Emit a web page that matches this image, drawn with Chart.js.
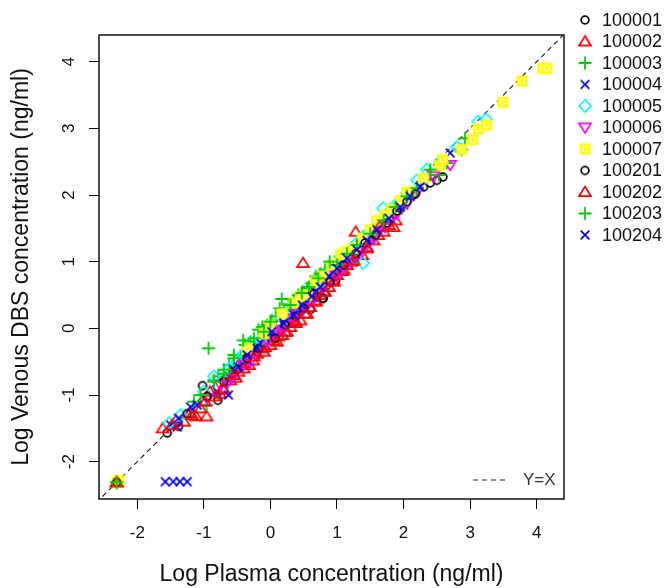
<!DOCTYPE html>
<html><head><meta charset="utf-8">
<script src="https://cdn.jsdelivr.net/npm/chart.js@4.4.1/dist/chart.umd.min.js"></script>
<style>html,body{margin:0;padding:0;background:#fff;}#wrap{width:667px;height:588px;}</style>
</head><body><div id="wrap"><canvas id="c" width="667" height="588"></canvas></div>
<script>
// ---------- data ----------
const seriesNames = ["100001","100002","100003","100004","100005","100006","100007","100201","100202","100203","100204"];
const xTicks = [-2,-1,0,1,2,3,4];
const yTicks = [-2,-1,0,1,2,3,4];
const xRange = [-2.575, 4.41];
const yRange = [-2.56, 4.40];
const identityLine = [-3, 5];
const xTitle = "Log Plasma concentration (ng/ml)";
const yTitle = "Log Venous DBS concentration (ng/ml)";
const refLabel = "Y=X";

const s100001 = [[-2.31,-2.31],[-1.55,-1.57],[-1.38,-1.47],[-1.02,-0.86],[-0.79,-1.08],[-0.66,-0.74],[-0.58,-0.70],[-0.52,-0.60],[-0.41,-0.52],[-0.30,-0.38],[-0.22,-0.40],[-0.18,-0.31],[-0.08,-0.20],[0.02,-0.10],[0.07,-0.15],[0.10,-0.05],[0.15,-0.02],[0.24,0.06],[0.30,0.12],[0.36,0.10],[0.42,0.25],[0.49,0.30],[0.55,0.38],[0.60,0.28],[0.63,0.44],[0.70,0.47],[0.79,0.45],[0.84,0.64],[0.95,0.78],[0.98,0.72],[1.05,0.92],[1.12,0.94],[1.20,1.02],[1.28,1.05],[1.35,1.18],[1.42,1.25],[1.50,1.32],[1.65,1.50],[1.80,1.62],[1.95,1.80],[2.15,2.00],[2.30,2.12],[2.40,2.18],[2.50,2.22],[2.59,2.27]];
const s100002 = [[-2.31,-2.31],[-1.62,-1.50],[-1.42,-1.38],[-1.30,-1.40],[-1.21,-1.27],[-1.12,-1.32],[-1.05,-1.20],[-0.96,-1.32],[-0.91,-0.95],[-0.84,-1.02],[-0.76,-0.98],[-0.70,-0.92],[-0.60,-0.78],[-0.52,-0.74],[-0.48,-0.65],[-0.40,-0.52],[-0.32,-0.55],[-0.26,-0.48],[-0.20,-0.38],[-0.12,-0.30],[-0.08,-0.28],[0.00,-0.25],[0.05,-0.18],[0.12,-0.12],[0.18,-0.10],[0.22,-0.05],[0.30,0.02],[0.38,0.10],[0.45,0.12],[0.49,0.98],[0.55,0.22],[0.60,0.32],[0.68,0.42],[0.75,0.50],[0.80,0.55],[0.88,0.62],[0.95,0.72],[1.00,0.80],[1.08,0.86],[1.15,0.95],[1.22,1.00],[1.28,1.45],[1.38,1.10],[1.45,1.22],[1.55,1.32],[1.62,1.40],[1.70,1.45],[1.78,1.55],[1.88,1.62]];
const s100003 = [[-2.31,-2.31],[-1.15,-1.10],[-0.96,-1.15],[-0.93,-0.30],[-0.85,-0.78],[-0.78,-0.72],[-0.70,-0.62],[-0.62,-0.55],[-0.55,-0.40],[-0.45,-0.42],[-0.38,-0.25],[-0.30,-0.20],[-0.18,-0.02],[-0.12,0.02],[-0.05,0.05],[0.02,0.12],[0.08,0.18],[0.14,0.30],[0.20,0.28],[0.28,0.36],[0.35,0.42],[0.42,0.50],[0.48,0.55],[0.55,0.60],[0.62,0.68],[0.68,0.78],[0.75,0.82],[0.82,0.88],[0.90,0.92],[0.98,1.00],[1.05,1.08],[1.12,1.12],[1.22,1.20],[1.30,1.25],[1.40,1.35],[1.50,1.45],[1.60,1.55],[1.70,1.65],[1.78,1.70],[1.95,1.88],[2.20,2.10],[2.40,2.30],[2.53,2.30],[2.65,2.48],[2.87,2.68],[2.92,2.85]];
const s100004 = [[-1.58,-2.30],[-1.46,-2.30],[-1.36,-2.30],[-1.25,-2.30],[-1.50,-1.45],[-1.40,-1.48],[-1.10,-1.15],[-0.80,-0.95],[-0.70,-0.82],[-0.62,-0.72],[-0.55,-0.62],[-0.42,-0.50],[-0.35,-0.48],[-0.28,-0.35],[-0.15,-0.22],[-0.08,-0.15],[-0.02,-0.12],[0.05,-0.05],[0.12,0.00],[0.20,0.05],[0.28,0.15],[0.35,0.25],[0.40,0.28],[0.48,0.32],[0.55,0.40],[0.62,0.50],[0.68,0.55],[0.75,0.62],[0.80,0.70],[0.88,0.80],[0.95,0.85],[1.02,0.92],[1.08,0.98],[1.15,1.02],[1.22,1.10],[1.28,1.20],[1.35,1.25],[1.45,1.35],[1.52,1.40],[1.60,1.48],[1.68,1.55],[1.75,1.62],[1.82,1.70],[1.92,1.78],[2.00,1.85],[2.08,1.98],[2.15,2.05],[2.30,2.20],[2.55,2.48],[2.70,2.63]];
const s100005 = [[-1.52,-1.42],[-1.35,-1.30],[-1.00,-0.95],[-0.85,-0.72],[-0.62,-0.60],[-0.50,-0.50],[-0.40,-0.38],[-0.28,-0.22],[-0.15,-0.18],[-0.05,-0.02],[0.05,0.00],[0.12,0.10],[0.22,0.15],[0.30,0.28],[0.40,0.35],[0.52,0.40],[0.65,0.60],[0.72,0.65],[0.85,0.80],[0.92,0.90],[1.00,0.95],[1.10,1.05],[1.18,1.15],[1.30,1.28],[1.39,0.98],[1.40,1.38],[1.55,1.50],[1.69,1.80],[1.75,1.72],[1.88,1.85],[2.05,2.02],[2.20,2.22],[2.35,2.38],[2.55,2.50],[2.80,2.72],[3.12,3.10],[3.24,3.13]];
const s100006 = [[-0.95,-1.05],[-0.75,-0.85],[-0.65,-0.82],[-0.58,-0.75],[-0.40,-0.55],[-0.30,-0.50],[-0.22,-0.38],[-0.05,-0.20],[0.02,-0.10],[0.10,-0.08],[0.18,-0.02],[0.25,0.05],[0.35,0.15],[0.42,0.22],[0.50,0.30],[0.58,0.38],[0.65,0.45],[0.72,0.52],[0.80,0.62],[0.90,0.70],[0.98,0.80],[1.05,0.85],[1.12,0.92],[1.20,1.00],[1.30,1.10],[1.38,1.15],[1.45,1.28],[1.55,1.35],[1.62,1.45],[1.72,1.52],[1.80,1.62],[1.90,1.72],[2.05,1.88],[2.20,2.05],[2.45,2.28],[2.70,2.45]];
const s100007 = [[-2.31,-2.31],[-2.28,-2.28],[-0.35,-0.30],[-0.10,-0.08],[0.00,0.05],[0.18,0.22],[0.35,0.38],[0.45,0.48],[0.55,0.50],[0.68,0.70],[0.80,0.78],[0.92,0.95],[1.05,1.10],[1.14,1.15],[1.25,1.20],[1.38,1.35],[1.50,1.48],[1.60,1.62],[1.72,1.70],[1.82,1.78],[1.95,1.92],[2.05,2.03],[2.10,2.05],[2.30,2.25],[2.54,2.44],[2.59,2.53],[2.87,2.68],[3.04,2.83],[3.12,2.99],[3.25,3.05],[3.49,3.39],[3.78,3.71],[4.09,3.90],[4.15,3.90]];
const s100201 = [[-2.31,-2.31],[-1.25,-1.28],[-0.95,-1.02],[-0.70,-0.80],[-0.50,-0.62],[-0.35,-0.45],[-0.18,-0.30],[0.07,-0.15],[0.22,0.05],[0.38,0.18],[0.50,0.30],[0.65,0.52],[0.79,0.45],[0.90,0.70],[1.10,0.95],[1.28,1.12],[1.42,1.28],[1.58,1.40],[1.75,1.58],[1.90,1.76],[2.05,1.90],[2.18,2.02]];
const s100202 = [[-2.31,-2.31],[-1.48,-1.45],[-1.18,-1.30],[-0.98,-1.10],[-0.72,-0.90],[-0.55,-0.70],[-0.40,-0.60],[-0.25,-0.42],[-0.10,-0.35],[0.10,-0.20],[0.25,-0.05],[0.38,0.08],[0.52,0.22],[0.68,0.40],[0.82,0.55],[0.95,0.70],[1.10,0.88],[1.25,1.02],[1.45,1.20],[1.64,1.53],[1.85,1.52]];
const s100203 = [[-2.31,-2.31],[-1.05,-1.00],[-0.85,-0.80],[-0.70,-0.68],[-0.55,-0.45],[-0.41,-0.18],[-0.25,-0.15],[-0.10,-0.05],[0.00,0.10],[0.17,0.44],[0.30,0.35],[0.47,0.53],[0.58,0.62],[0.72,0.75],[0.89,1.00],[1.00,0.95],[1.15,1.12],[1.30,1.25],[1.50,1.42],[1.70,1.62],[1.88,1.82],[2.05,1.98],[2.20,2.10],[2.40,2.38]];
const s100204 = [[-1.38,-1.35],[-1.20,-1.18],[-0.63,-1.00],[-0.48,-0.58],[-0.35,-0.40],[-0.20,-0.30],[0.02,-0.05],[0.20,0.08],[0.35,0.20],[0.48,0.35],[0.62,0.48],[0.75,0.62],[0.88,0.78],[1.00,0.90],[1.15,1.05],[1.30,1.18],[1.45,1.32],[1.60,1.48],[1.78,1.65],[1.95,1.82],[2.10,1.98],[2.25,2.12]];
const seriesData = [s100001,s100002,s100003,s100004,s100005,s100006,s100007,s100201,s100202,s100203,s100204];

// ---------- styles ----------
const markerKinds = ["circle","tri","plus","x","diamond","itri","ysq","circle","tri","plus","x"];
const markerColors = ["#000000","#FF0000","#00CD00","#0000FF","#00FFFF","#FF00FF","#FFFF00","#000000","#FF0000","#00CD00","#0000FF"];
const FONT = "'Liberation Sans', Arial, Helvetica, sans-serif";

function makeMarker(kind, color){
  const c = document.createElement('canvas');
  c.width = 18; c.height = 18;
  const g = c.getContext('2d');
  g.strokeStyle = color; g.fillStyle = color; g.lineWidth = 1.7;
  const m = 9;
  g.beginPath();
  if (kind === 'circle'){ g.arc(m,m,3.9,0,Math.PI*2); g.stroke(); }
  else if (kind === 'tri'){ g.moveTo(m,m-5.5); g.lineTo(m+6,m+4.2); g.lineTo(m-6,m+4.2); g.closePath(); g.stroke(); }
  else if (kind === 'itri'){ g.moveTo(m,m+5.5); g.lineTo(m+6,m-4.2); g.lineTo(m-6,m-4.2); g.closePath(); g.stroke(); }
  else if (kind === 'plus'){ g.lineWidth=1.8; g.moveTo(m-6.5,m); g.lineTo(m+6.5,m); g.moveTo(m,m-6.5); g.lineTo(m,m+6.5); g.stroke(); }
  else if (kind === 'x'){ g.moveTo(m-4.3,m-4.3); g.lineTo(m+4.3,m+4.3); g.moveTo(m+4.3,m-4.3); g.lineTo(m-4.3,m+4.3); g.stroke(); }
  else if (kind === 'diamond'){ g.moveTo(m,m-6); g.lineTo(m+6,m); g.lineTo(m,m+6); g.lineTo(m-6,m); g.closePath(); g.stroke(); }
  else if (kind === 'ysq'){ g.fillRect(m-5.5,m-5.5,11,11); g.strokeStyle='#ffffd0'; g.lineWidth=1.1; g.beginPath(); g.arc(m,m,2.7,0,Math.PI*2); g.stroke(); }
  return c;
}
const markers = markerKinds.map((k,i)=>makeMarker(k, markerColors[i]));

const datasets = seriesData.map((arr,i)=>({
  label: seriesNames[i],
  data: arr.map(p=>({x:p[0], y:p[1]})),
  pointStyle: markers[i],
  pointRadius: 5, pointHoverRadius: 5,
  order: 20 - i
}));
datasets.push({
  type:'line', label: refLabel,
  data: identityLine.map(v=>({x:v,y:v})),
  borderColor:'#1a1a1a', borderWidth:1.1, borderDash:[5,4],
  pointRadius:0, fill:false, order: 100
});

const framePlugin = {
  id:'frame',
  afterDraw(chart){
    const {ctx, chartArea:a, scales} = chart;
    ctx.save();
    ctx.strokeStyle='#000'; ctx.lineWidth=1.4;
    ctx.strokeRect(a.left, a.top, a.right-a.left, a.bottom-a.top);
    ctx.fillStyle='#111';
    ctx.font = "17px " + FONT;
    ctx.textAlign='center'; ctx.textBaseline='middle';
    yTicks.forEach(v=>{
      const py = scales.y.getPixelForValue(v);
      ctx.save(); ctx.translate(a.left-30, py); ctx.rotate(-Math.PI/2);
      ctx.fillText(String(v),0,0); ctx.restore();
    });
    const ly = a.bottom - 19;
    ctx.strokeStyle='#222'; ctx.lineWidth=1.1; ctx.setLineDash([5,4]);
    ctx.beginPath(); ctx.moveTo(a.right-91, ly); ctx.lineTo(a.right-59, ly); ctx.stroke();
    ctx.setLineDash([]);
    ctx.font = "17px " + FONT; ctx.textAlign='left'; ctx.fillStyle='#333';
    ctx.fillText(refLabel, a.right-41, ly);
    ctx.font = "18px " + FONT; ctx.fillStyle='#111';
    seriesNames.forEach((n,i)=>{
      const yy = 20 + i*21.5;
      const m = markers[i];
      ctx.drawImage(m, 585 - m.width/2, yy - m.height/2);
      ctx.fillText(n, 602, yy+1);
    });
    ctx.restore();
  }
};

new Chart(document.getElementById('c'), {
  type:'scatter',
  data:{ datasets },
  options:{
    responsive:false, animation:false,
    layout:{ padding:{ top:35, right:103, bottom:0, left:0 } },
    plugins:{ legend:{display:false}, tooltip:{enabled:false} },
    scales:{
      x:{
        type:'linear', min:xRange[0], max:xRange[1],
        afterBuildTicks:(s)=>{ s.ticks = xTicks.map(v=>({value:v})); },
        afterFit:(s)=>{ s.height = 89; },
        grid:{ drawOnChartArea:false, drawTicks:true, tickLength:10, color:'#000', lineWidth:1 },
        border:{ display:false },
        ticks:{ color:'#111', font:{ family:FONT, size:17 }, padding:14, maxRotation:0 },
        title:{ display:true, text:xTitle, color:'#111', font:{ family:FONT, size:23 }, padding:{top:0,bottom:0} }
      },
      y:{
        type:'linear', min:yRange[0], max:yRange[1],
        afterBuildTicks:(s)=>{ s.ticks = yTicks.map(v=>({value:v})); },
        afterFit:(s)=>{ s.width = 99; },
        grid:{ drawOnChartArea:false, drawTicks:true, tickLength:10, color:'#000', lineWidth:1 },
        border:{ display:false },
        ticks:{ display:false },
        title:{ display:true, text:yTitle, color:'#111', font:{ family:FONT, size:23 }, padding:{top:8,bottom:0} }
      }
    }
  },
  plugins:[framePlugin]
});
</script></body></html>
